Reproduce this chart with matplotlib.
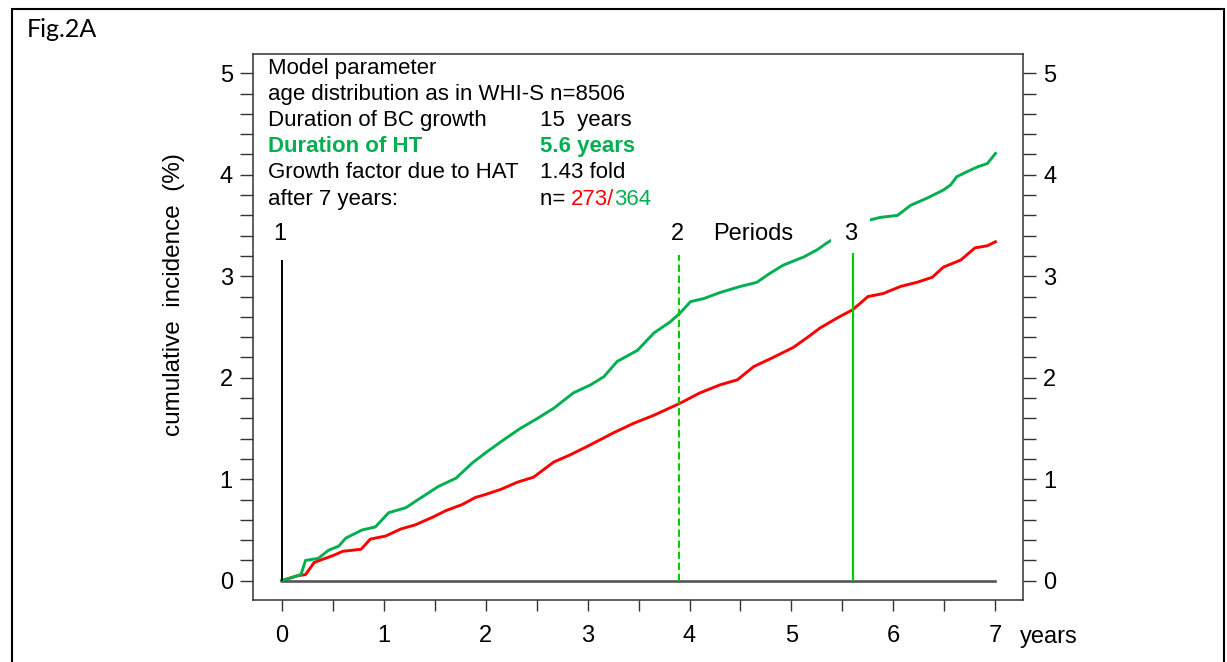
import matplotlib.pyplot as plt
from matplotlib.patches import Rectangle
from matplotlib.ticker import MultipleLocator, FixedLocator, NullFormatter

# cumulative incidence (%)
green_years = [0.0, 0.19, 0.235, 0.36, 0.46, 0.56, 0.63, 0.79, 0.92, 1.05, 1.22, 1.34,
               1.54, 1.71, 1.87, 2.0, 2.18, 2.34, 2.51, 2.67, 2.86, 3.03, 3.16, 3.29,
               3.49, 3.65, 3.81, 3.91, 4.01, 4.14, 4.3, 4.5, 4.66, 4.79, 4.92, 5.12,
               5.25, 5.35, 5.55, 5.75, 5.87, 6.04, 6.17, 6.33, 6.49, 6.56, 6.62, 6.72,
               6.83, 6.92, 7.0]
green_cum = [0.0, 0.06, 0.2, 0.22, 0.3, 0.34, 0.42, 0.5, 0.53, 0.67, 0.72, 0.8,
             0.93, 1.01, 1.16, 1.26, 1.39, 1.5, 1.6, 1.7, 1.85, 1.93, 2.01, 2.16,
             2.27, 2.44, 2.55, 2.64, 2.75, 2.78, 2.84, 2.9, 2.94, 3.03, 3.11, 3.19,
             3.26, 3.33, 3.45, 3.55, 3.58, 3.6, 3.7, 3.77, 3.85, 3.9, 3.98, 4.03,
             4.08, 4.11, 4.21]

red_years = [0.0, 0.16, 0.235, 0.32, 0.4, 0.51, 0.6, 0.78, 0.87, 1.02, 1.17, 1.31,
             1.49, 1.61, 1.77, 1.9, 2.0, 2.15, 2.31, 2.47, 2.67, 2.83, 3.03, 3.26,
             3.45, 3.65, 3.91, 4.1, 4.3, 4.47, 4.63, 4.82, 5.02, 5.16, 5.28, 5.45,
             5.6, 5.75, 5.9, 6.07, 6.23, 6.38, 6.49, 6.66, 6.8, 6.92, 7.0]
red_cum = [0.0, 0.05, 0.06, 0.18, 0.21, 0.25, 0.29, 0.31, 0.41, 0.44, 0.51, 0.55,
           0.63, 0.69, 0.75, 0.82, 0.85, 0.9, 0.97, 1.02, 1.17, 1.24, 1.34, 1.46,
           1.55, 1.63, 1.75, 1.85, 1.93, 1.98, 2.11, 2.2, 2.3, 2.4, 2.49, 2.59,
           2.67, 2.8, 2.83, 2.9, 2.94, 2.99, 3.09, 3.16, 3.28, 3.3, 3.34]

period_years = [0.0, 3.9, 5.6]
period_labels = ['1', '2', '3']

param_lines = ['Model parameter',
               'age distribution as in WHI-S n=8506',
               'Duration of BC growth',
               'Duration of HT',
               'Growth factor due to HAT',
               'after 7 years:']
param_values = ['', '', '15  years', '5.6 years', '1.43 fold', 'n= ']

GREEN = '#00b050'
RED = '#ff0000'
LINE_GREEN = '#00cc00'
FS = 16
FS_AX = 17

plt.rcParams['font.family'] = ['Liberation Sans', 'DejaVu Sans']

fig = plt.figure(figsize=(12.27, 6.62), dpi=100)
ax = fig.add_axes([253 / 1227, 1 - 600 / 662, 770 / 1227, 546 / 662])

# outer frame of the figure panel
fig.patches.append(Rectangle((12 / 1227, -0.05), 1212 / 1227, 1.05 - 9 / 662,
                             transform=fig.transFigure, fill=False,
                             edgecolor='black', linewidth=1.5))
fig.text(27 / 1227, 1 - 37 / 662, 'Fig.2A', family=['Lato', 'DejaVu Sans'],
         fontsize=18, va='baseline', ha='left')

ax.plot([0, 7], [0, 0], color='#555555', linewidth=1.9, zorder=2)
ax.plot(red_years, red_cum, color=RED, linewidth=2.1, zorder=3)
ax.plot(green_years, green_cum, color=GREEN, linewidth=2.1, zorder=3)

ax.vlines(period_years[0], 0, 3.16, color='black', linewidth=1.4, zorder=5)
ax.vlines(period_years[1], 0, 3.21, color=LINE_GREEN, linewidth=1.5,
          linestyles=(0, (3.5, 1.8)), zorder=5)
ax.vlines(period_years[2], 0, 3.23, color=LINE_GREEN, linewidth=1.6, zorder=5)

for xp, lab in zip(period_years, period_labels):
    ax.text(xp - 0.02, 3.42, lab, fontsize=FS_AX, ha='center', va='center', zorder=4,
            bbox=dict(boxstyle='square,pad=0.55', facecolor='white',
                      edgecolor='none') if lab == '3' else None)
ax.text(4.62, 3.42, 'Periods', fontsize=FS_AX, ha='center', va='center')

# parameter block
y0, dy = 5.05, 0.258
for i, (lab, val) in enumerate(zip(param_lines, param_values)):
    y = y0 - i * dy
    bold = lab == 'Duration of HT'
    col = GREEN if bold else 'black'
    ax.text(-0.13, y, lab, fontsize=FS, color=col, va='center', ha='left',
            fontweight='bold' if bold else 'normal')
    if val:
        t = ax.text(2.53, y, val, fontsize=FS, color=col, va='center', ha='left',
                    fontweight='bold' if bold else 'normal')
        if val == 'n= ':
            t2 = ax.annotate('273/', xy=(1, 0), xycoords=t, fontsize=FS,
                             color=RED, va='bottom', ha='left')
            ax.annotate('364', xy=(1, 0), xycoords=t2, fontsize=FS,
                        color=GREEN, va='bottom', ha='left')

ax.set_xlim(-0.28, 7.27)
ax.set_ylim(-0.19, 5.19)

for s in ax.spines.values():
    s.set_color('#333333')
    s.set_linewidth(1.1)

ax.xaxis.set_major_locator(MultipleLocator(1))
ax.xaxis.set_minor_locator(FixedLocator([0.5, 1.5, 2.5, 3.5, 4.5, 5.5, 6.5]))
ax.yaxis.set_major_locator(MultipleLocator(1))
ax.yaxis.set_minor_locator(MultipleLocator(0.2))
ax.yaxis.set_minor_formatter(NullFormatter())

ax.tick_params(axis='x', which='both', direction='out', length=8, width=1.0,
               color='#333333', pad=10, labelsize=FS_AX)
ax.tick_params(axis='y', which='both', direction='out', length=9.5, width=1.0,
               color='#333333', labelsize=FS_AX, left=True, right=True,
               labelleft=True, labelright=True)
ax.tick_params(axis='y', which='major', pad=5)

ax.set_ylabel('cumulative  incidence  (%)', fontsize=17.5)
ax.yaxis.set_label_coords(-0.088, 0.56)
fig.text(1020 / 1227, 1 - 637 / 662, 'years', fontsize=FS_AX, va='center', ha='left')

fig.savefig('out.png', dpi=100)
